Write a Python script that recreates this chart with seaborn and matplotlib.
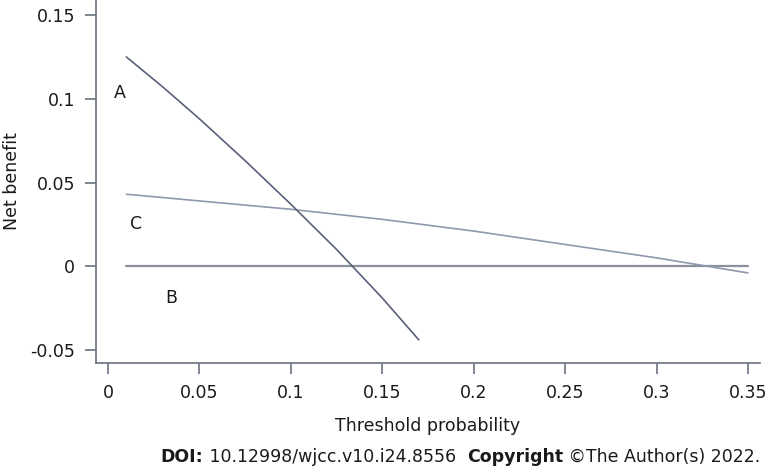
import pandas as pd
import matplotlib
matplotlib.use("Agg")
import matplotlib.pyplot as plt
import seaborn as sns

# Curve A
a_threshold = [0.01, 0.03, 0.05, 0.075, 0.10, 0.125, 0.15, 0.17]
a_benefit = [0.125, 0.107, 0.088, 0.063, 0.037, 0.010, -0.019, -0.044]

# Curve C
c_threshold = [0.01, 0.05, 0.10, 0.15, 0.20, 0.25, 0.30, 0.35]
c_benefit = [0.043, 0.039, 0.034, 0.028, 0.021, 0.013, 0.005, -0.004]

# Curve B (treat none)
b_threshold = [0.01, 0.35]
b_benefit = [0.0, 0.0]

labels = ["A", "B", "C"]
label_x = [0.0066, 0.0345, 0.0153]
label_y = [0.1033, -0.0191, 0.0251]

x_ticks = [0, 0.05, 0.1, 0.15, 0.2, 0.25, 0.3, 0.35]
x_ticklabels = ["0", "0.05", "0.1", "0.15", "0.2", "0.25", "0.3", "0.35"]
y_ticks = [-0.05, 0, 0.05, 0.1, 0.15]
y_ticklabels = ["-0.05", "0", "0.05", "0.1", "0.15"]

sns.set_style("ticks")
plt.rcParams["font.family"] = ["DejaVu Sans"]

axis_col = "#6b7180"
text_col = "#1a1a1a"
fs = 12.5

fig = plt.figure(figsize=(7.66, 4.72), dpi=100)
ax = fig.add_axes([96 / 766, 1 - 363 / 472, 664 / 766, 363 / 472])

df_a = pd.DataFrame({"threshold": a_threshold, "benefit": a_benefit})
df_b = pd.DataFrame({"threshold": b_threshold, "benefit": b_benefit})
df_c = pd.DataFrame({"threshold": c_threshold, "benefit": c_benefit})

sns.lineplot(data=df_b, x="threshold", y="benefit", ax=ax, color="#8a909c", linewidth=1.6, sort=False)
sns.lineplot(data=df_c, x="threshold", y="benefit", ax=ax, color="#8e98ae", linewidth=1.2, sort=False)
sns.lineplot(data=df_a, x="threshold", y="benefit", ax=ax, color="#5a6178", linewidth=1.2, sort=False)

for lab, lx, ly in zip(labels, label_x, label_y):
    ax.text(lx, ly, lab, ha="center", va="center", fontsize=fs, color=text_col)

ax.set_xlim(-0.0066, 0.3566)
ax.set_ylim(-0.0578, 0.159)
ax.set_xticks(x_ticks)
ax.set_xticklabels(x_ticklabels)
ax.set_yticks(y_ticks)
ax.set_yticklabels(y_ticklabels)

ax.set_xlabel("Threshold probability", fontsize=fs, color=text_col, va="center")
ax.set_ylabel("Net benefit", fontsize=fs, color=text_col, va="center")
ax.xaxis.set_label_coords(0.5, (363 - 426) / 363)
ax.yaxis.set_label_coords((12 - 96) / 664, 0.5)

sns.despine(ax=ax)
for side in ["left", "bottom"]:
    ax.spines[side].set_color(axis_col)
    ax.spines[side].set_linewidth(1.2)
ax.tick_params(axis="both", direction="out", length=8, width=1.2, color=axis_col,
               labelsize=fs, labelcolor=text_col, pad=7)

# footer line built from pieces, right aligned at x=760 px
pieces = [("DOI:", "bold"), (" 10.12998/wjcc.v10.i24.8556  ", "normal"),
          ("Copyright", "bold"), (" \u00a9The Author(s) 2022.", "normal")]
renderer = fig.canvas.get_renderer()
x_px = 760
y_fig = 1 - 457 / 472
for txt, weight in reversed(pieces):
    t = fig.text(x_px / 766, y_fig, txt, ha="right", va="center", fontsize=fs,
                 fontweight=weight, color=text_col)
    w = t.get_window_extent(renderer=renderer).width
    x_px -= w

fig.savefig("out.png", dpi=100, facecolor="white")
